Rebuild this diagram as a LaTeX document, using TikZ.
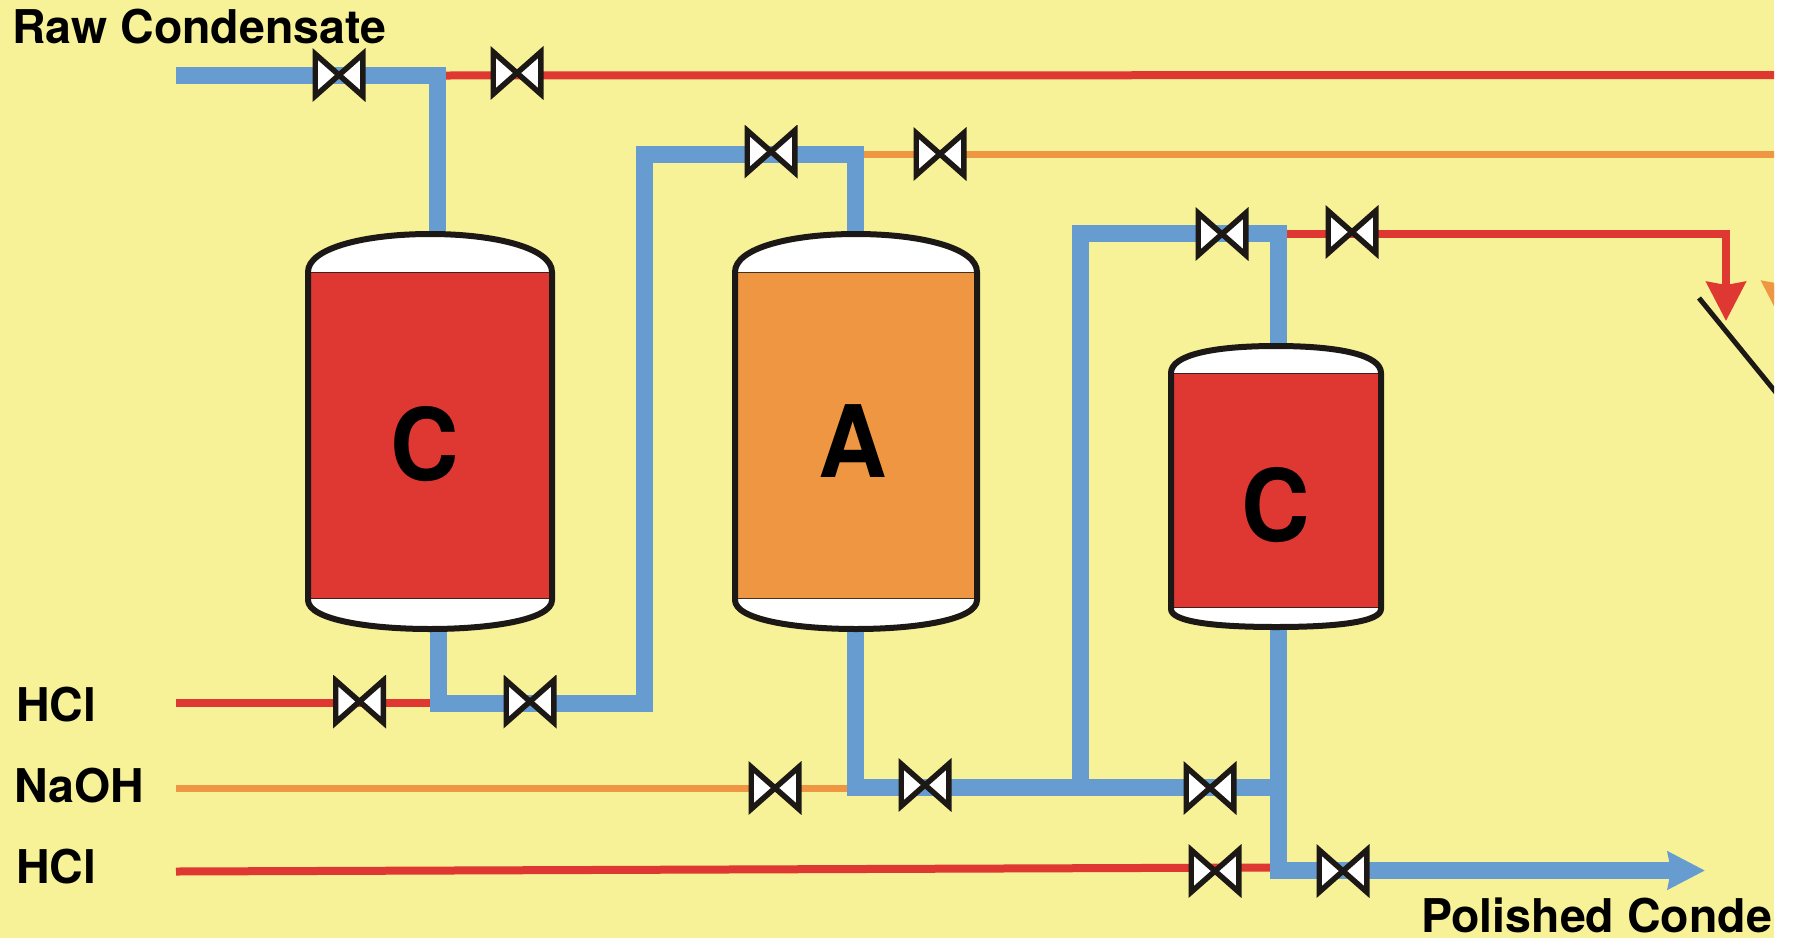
\documentclass[tikz,border=0pt]{standalone}
\usepackage{fontspec}
\setmainfont{TeX Gyre Heros}
\usetikzlibrary{arrows.meta}
\definecolor{bgyellow}{HTML}{F7F297}
\definecolor{pipeblue}{HTML}{669CD0}
\definecolor{pipered}{HTML}{DF3732}
\definecolor{pipeorange}{HTML}{EE9642}
\definecolor{inkblack}{HTML}{1C1815}
\tikzset{
  bluepipe/.style={draw=pipeblue,line width=17pt,line join=miter},
  redpipe/.style={draw=pipered,line width=8pt,line join=miter},
  orangepipe/.style={draw=pipeorange,line width=7pt,line join=miter},
  valve/.style={inner sep=0pt,minimum size=53pt,shape=rectangle,
    path picture={
      \fill[white] (path picture bounding box.center) ++(-24,-21) -- ++(24,21) -- ++(-24,21) -- cycle;
      \fill[white] (path picture bounding box.center) ++(24,-21) -- ++(-24,21) -- ++(24,21) -- cycle;
      \draw[inkblack,line width=5.5pt,miter limit=10,line join=miter]
        (path picture bounding box.center) ++(-23.8,-21) -- ++(47.6,42) -- ++(0,-42) -- ++(-47.6,42) -- cycle;
    }},
  wall/.style={draw=inkblack,line width=6pt,line join=round},
  label/.style={inner sep=0pt,anchor=base west,font=\fontsize{46.5}{50}\selectfont\bfseries,text=black},
  letter/.style={inner sep=0pt,font=\fontsize{100}{110}\selectfont\bfseries,text=black},
}
% left, right, centre, top, shoulder, body bottom, wall end, bottom, fill colour
\newcommand{\vesseldraw}[9]{%
  \fill[white] (#1+3,#5+1) .. controls (#1+3,{#5-0.585*(#5-#4)}) and (#3-65,#4+3) .. (#3,#4+3)
     .. controls (#3+65,#4+3) and (#2-3,{#5-0.585*(#5-#4)}) .. (#2-3,#5+1) -- cycle;
  \fill[white] (#1+3,#6) -- (#1+3,#7) .. controls (#1+3,{#7+0.62*(#8-#7)}) and (#3-60,#8-3) .. (#3,#8-3)
     .. controls (#3+60,#8-3) and (#2-3,{#7+0.62*(#8-#7)}) .. (#2-3,#7) -- (#2-3,#6) -- cycle;
  \fill[#9] (#1+3,#5) rectangle (#2-3,#6);
  \draw[inkblack!80!#9,line width=1pt] (#1+3,#5) -- (#2-3,#5) (#1+3,#6) -- (#2-3,#6);
  \draw[wall] (#1+3,#7) -- (#1+3,#5) .. controls (#1+3,{#5-0.585*(#5-#4)}) and (#3-65,#4+3) .. (#3,#4+3)
     .. controls (#3+65,#4+3) and (#2-3,{#5-0.585*(#5-#4)}) .. (#2-3,#5) -- (#2-3,#7)
     .. controls (#2-3,{#7+0.62*(#8-#7)}) and (#3+60,#8-3) .. (#3,#8-3)
     .. controls (#3-60,#8-3) and (#1+3,{#7+0.62*(#8-#7)}) .. cycle;
}
\begin{document}
\begin{tikzpicture}[x=1pt,y=-1pt]
\useasboundingbox (0,0) rectangle (1800,938);
\fill[white] (0,0) rectangle (1800,938);
\begin{scope}
\clip (0,0) rectangle (1774,938);
\fill[bgyellow] (0,0) rectangle (1774,938);

% named points
\coordinate (rawstart) at (176,75.5);
\coordinate (c1top) at (437.5,75.5);
\coordinate (c1in) at (437.5,240);
\coordinate (c1out) at (438,620);
\coordinate (c1low) at (438,703.5);
\coordinate (riserA) at (644.5,703.5);
\coordinate (riserAtop) at (644.5,154);
\coordinate (atop) at (855,154);
\coordinate (ain) at (855,240);
\coordinate (aout) at (855,620);
\coordinate (alow) at (855,787.5);
\coordinate (jtn) at (1080,787.5);
\coordinate (jtntop) at (1080,233.5);
\coordinate (c2top) at (1278,233.5);
\coordinate (c2in) at (1278,350);
\coordinate (c2out) at (1278,620);
\coordinate (c2mid) at (1278,787.5);
\coordinate (c2low) at (1278,870.5);
\coordinate (prodend) at (1705,870.5);
\coordinate (redoff) at (1800,75);
\coordinate (orangeoff) at (1781,154);
\coordinate (orangetip) at (1781,320);
\coordinate (redcorner) at (1726,233.5);
\coordinate (redtip) at (1726,321);
\coordinate (hcla) at (176,703);
\coordinate (hclaend) at (430,703);
\coordinate (naohs) at (176,788.5);
\coordinate (naohe) at (855,788.5);
\coordinate (hclb) at (176,871.5);
\coordinate (hclbend) at (1275,867.5);
\coordinate (flapa) at (1699,298);
\coordinate (flapb) at (1800,422);

% chemical lines
\draw[redpipe] (c1top) -- (redoff);
\draw[orangepipe,-{Stealth[inset=3pt,length=39pt,width=39pt]}] (atop) -- (orangeoff) -- (orangetip);
\draw[redpipe,-{Stealth[inset=3pt,length=39pt,width=39pt]}] (c2top) -- (redcorner) -- (redtip);
\draw[redpipe] (hcla) -- (hclaend);
\draw[orangepipe] (naohs) -- (naohe);
\draw[redpipe] (hclb) -- (hclbend);

% process lines
\draw[bluepipe] (rawstart) -- (c1top) -- (c1in);
\draw[bluepipe] (c1out) -- (c1low) -- (riserA) -- (riserAtop) -- (atop) -- (ain);
\draw[bluepipe] (aout) -- (alow) -- (c2mid);
\draw[bluepipe] (jtn) -- (jtntop) -- (c2top) -- (c2in);
\draw[bluepipe,-{Stealth[inset=3pt,length=37pt,width=37pt]}] (c2out) -- (c2low) -- (prodend);

% vessels
\vesseldraw{305}{555}{430}{231}{272}{598}{600}{632}{pipered}
\vesseldraw{732}{980}{856}{231}{272}{598}{600}{632}{pipeorange}
\vesseldraw{1168}{1384}{1276}{343}{373}{607}{609}{630}{pipered}
\node[letter] (lc1) at (425,444) {\scalebox{0.95}[1]{C}};
\node[letter] (la) at (853,441) {\scalebox{0.95}[1]{A}};
\node[letter] (lc2) at (1276,505) {\scalebox{0.95}[1]{C}};

% valves
\node[valve] (v1) at (339,75) {};
\node[valve] (v2) at (517,73) {};
\node[valve] (v3) at (771,151.5) {};
\node[valve] (v4) at (940,154) {};
\node[valve] (v5) at (1222,234) {};
\node[valve] (v6) at (1352,232) {};
\node[valve] (v7) at (359.5,701.5) {};
\node[valve] (v8) at (530,701.5) {};
\node[valve] (v9) at (775,788) {};
\node[valve] (v10) at (925,785) {};
\node[valve] (v11) at (1210,788) {};
\node[valve] (v12) at (1215,871) {};
\node[valve] (v13) at (1343,871) {};

% flap
\draw[inkblack,line width=5pt] (flapa) -- (flapb);

% labels
\node[label] (t1) at (12,43) {Raw Condensate};
\node[label] (t2) at (16,721) {HCl};
\node[label] (t3) at (14,802) {NaOH};
\node[label] (t4) at (16,883) {HCl};
\node[label] (t5) at (1421,932) {Polished Conde};
\end{scope}
\end{tikzpicture}
\end{document}
